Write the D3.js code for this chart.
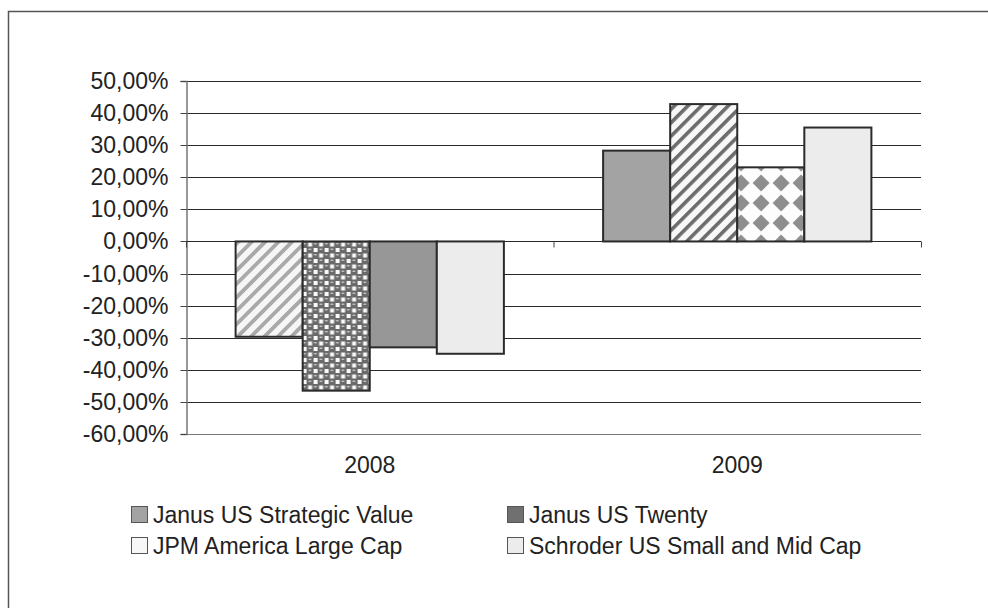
<!DOCTYPE html>
<html>
<head>
<meta charset="utf-8">
<script src="https://cdn.jsdelivr.net/npm/d3@7"></script>
<style>
  html, body { margin: 0; padding: 0; background: #fff; }
  svg { display: block; font-family: "Liberation Sans", Arial, sans-serif; }
</style>
</head>
<body>
<div id="chart"></div>
<script>
// returns per fund, 2008 and 2009
const YEARS = ["2008", "2009"];
const SERIES = [
  "Janus US Strategic Value",
  "Janus US Twenty",
  "JPM America Large Cap",
  "Schroder US Small and Mid Cap"
];
const strategicValue = [-0.297, 0.283];
const usTwenty = [-0.465, 0.428];
const jpmLargeCap = [-0.330, 0.231];
const schroderSmallMid = [-0.350, 0.355];
const Y_TICKS = [0.5, 0.4, 0.3, 0.2, 0.1, 0, -0.1, -0.2, -0.3, -0.4, -0.5, -0.6];

// legend colours and the fill each bar got in the printed chart
const LEGEND_FILLS = ["#a3a3a3", "#707070", "#f7f7f7", "#ececec"];
const POINT_FILLS = {
  2008: ["url(#stripeLight)", "url(#dots)", "#979797", "#ececec"],
  2009: ["#a3a3a3", "url(#stripeDark)", "url(#diamonds)", "#ececec"]
};

const width = 988, height = 608;
const margin = { top: 81, left: 186, right: 67, bottom: 174 };
const FONT = 23;

const svg = d3.select("#chart").append("svg")
  .attr("width", width).attr("height", height);

// patterns
const defs = svg.append("defs");

function stripes(id, bg, fg, size, thick) {
  const p = defs.append("pattern").attr("id", id)
    .attr("patternUnits", "userSpaceOnUse")
    .attr("width", size).attr("height", size)
    .attr("patternTransform", "rotate(45)");
  p.append("rect").attr("width", size).attr("height", size).attr("fill", bg);
  p.append("rect").attr("x", 0).attr("width", thick).attr("height", size).attr("fill", fg);
}
stripes("stripeLight", "#f6f6f6", "#a9a9a9", 9.5, 3.8);
stripes("stripeDark", "#f8f8f8", "#6c6c6c", 9.5, 3.6);

// dark checker with round dots
const dots = defs.append("pattern").attr("id", "dots")
  .attr("patternUnits", "userSpaceOnUse").attr("width", 11).attr("height", 11);
dots.append("rect").attr("width", 11).attr("height", 11).attr("fill", "#6a6a6a");
[[6.5, 0.5], [1, 6]].forEach(([sx, sy]) => {
  dots.append("rect").attr("x", sx).attr("y", sy).attr("width", 4).attr("height", 4)
    .attr("fill", "#fafafa");
});
[[2.75, 1.8], [8.25, 7.3]].forEach(([cx, cy]) => {
  dots.append("ellipse").attr("cx", cx).attr("cy", cy).attr("rx", 1.6).attr("ry", 0.8)
    .attr("fill", "#d0d0d0");
});

const diam = defs.append("pattern").attr("id", "diamonds")
  .attr("patternUnits", "userSpaceOnUse").attr("width", 20).attr("height", 20)
  .attr("x", 8).attr("y", 13);
diam.append("rect").attr("width", 20).attr("height", 20).attr("fill", "#fdfdfd");
diam.append("path").attr("d", "M10,1.5 L18.5,10 L10,18.5 L1.5,10 Z").attr("fill", "#8e8e8e");

// outer frame (runs off the bottom/right edge like the scan)
svg.append("rect")
  .attr("x", 8.5).attr("y", 11.5)
  .attr("width", 1000).attr("height", 700)
  .attr("fill", "none").attr("stroke", "#555").attr("stroke-width", 1.5);

const y = d3.scaleLinear().domain([-0.6, 0.5]).range([height - margin.bottom, margin.top]);
const x0 = d3.scaleBand().domain(YEARS)
  .range([margin.left, width - margin.right])
  .paddingInner(0.27).paddingOuter(0.135);
const x1 = d3.scaleBand().domain(SERIES).range([0, x0.bandwidth()]);

const fmt = v => d3.format(".2f")(v * 100).replace(".", ",").replace("−", "-") + "%";

// gridlines
svg.append("g").selectAll("line").data(Y_TICKS).join("line")
  .attr("x1", margin.left).attr("x2", width - margin.right)
  .attr("y1", d => Math.round(y(d)) + 0.5).attr("y2", d => Math.round(y(d)) + 0.5)
  .attr("stroke", d => d === -0.6 ? "#777" : "#2a2a2a").attr("stroke-width", 1);

// y axis
const yAxis = svg.append("g")
  .attr("transform", `translate(${margin.left + 0.5},0)`)
  .call(d3.axisLeft(y).tickValues(Y_TICKS).tickSize(6).tickPadding(12).tickFormat(fmt));
yAxis.select(".domain").attr("stroke", "#777").attr("stroke-width", 1.5);
yAxis.selectAll(".tick line").attr("stroke", "#444");
yAxis.selectAll(".tick text").attr("font-size", FONT).attr("fill", "#222")
  .attr("font-family", "Liberation Sans, Arial, sans-serif");
yAxis.selectAll(".tick").attr("transform", d => `translate(0,${Math.round(y(d)) + 0.5})`);

// bars
const rows = YEARS.map((yr, i) => ({
  year: yr,
  values: [strategicValue[i], usTwenty[i], jpmLargeCap[i], schroderSmallMid[i]]
}));

svg.append("g").selectAll("g").data(rows).join("g")
  .attr("transform", d => `translate(${x0(d.year)},0)`)
  .selectAll("rect")
  .data(d => d.values.map((v, k) => ({ year: d.year, series: SERIES[k], k, value: v })))
  .join("rect")
  .attr("x", d => x1(d.series))
  .attr("y", d => y(Math.max(0, d.value)))
  .attr("width", x1.bandwidth())
  .attr("height", d => Math.abs(y(d.value) - y(0)))
  .attr("fill", d => POINT_FILLS[d.year][d.k])
  .attr("stroke", "#2b2b2b").attr("stroke-width", 2);

// category axis at zero
const zeroY = Math.round(y(0)) + 0.5;
svg.append("line")
  .attr("x1", margin.left).attr("x2", width - margin.right)
  .attr("y1", zeroY).attr("y2", zeroY)
  .attr("stroke", "#2a2a2a");
const bounds = [margin.left, x0.step() + margin.left, width - margin.right];
svg.append("g").selectAll("line").data(bounds).join("line")
  .attr("x1", d => d + 0.5).attr("x2", d => d + 0.5)
  .attr("y1", zeroY).attr("y2", zeroY + 6)
  .attr("stroke", "#444");

// year labels under the plot
svg.append("g").selectAll("text").data(YEARS).join("text")
  .attr("x", d => x0(d) + x0.bandwidth() / 2)
  .attr("y", height - margin.bottom + 39)
  .attr("text-anchor", "middle")
  .attr("font-size", FONT).attr("fill", "#222")
  .text(d => d);

// legend
const legendPos = [[131, 506], [507, 506], [131, 537], [507, 537]];
const legend = svg.append("g").selectAll("g").data(SERIES).join("g")
  .attr("transform", (d, i) => `translate(${legendPos[i][0]},${legendPos[i][1]})`);
legend.append("rect")
  .attr("x", 0.5).attr("y", 0.5).attr("width", 16).attr("height", 16)
  .attr("fill", (d, i) => LEGEND_FILLS[i])
  .attr("stroke", "#555").attr("stroke-width", 1);
legend.append("text")
  .attr("x", 22).attr("y", 16.5)
  .attr("font-size", FONT).attr("fill", "#222")
  .text(d => d);
</script>
</body>
</html>
